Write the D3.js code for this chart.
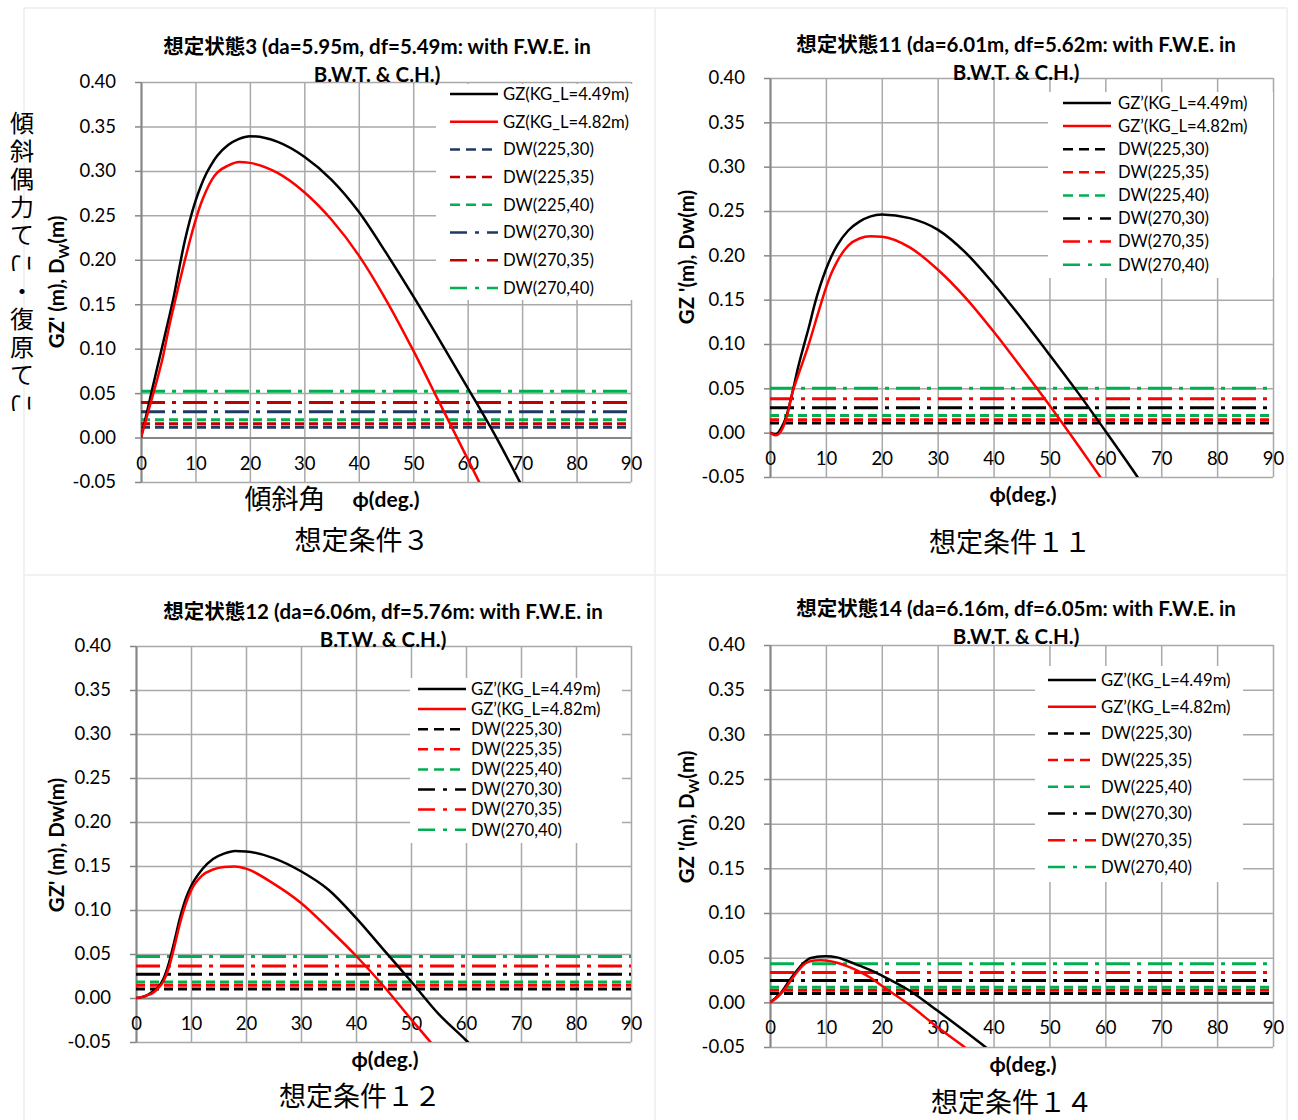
<!DOCTYPE html>
<html>
<head>
<meta charset="utf-8">
<script src="https://cdn.jsdelivr.net/npm/d3@7"></script>
<style>
body { margin: 0; background: #fff; }
svg { display: block; }
text { font-family: Lato, "Noto Sans CJK JP", sans-serif; fill: #000; }
</style>
</head>
<body>
<script>
// axis ticks
var xTicks = [0, 10, 20, 30, 40, 50, 60, 70, 80, 90];
var yTicks = [-0.05, 0, 0.05, 0.10, 0.15, 0.20, 0.25, 0.30, 0.35, 0.40];
var dwNames = ["DW(225,30)", "DW(225,35)", "DW(225,40)", "DW(270,30)", "DW(270,35)", "DW(270,40)"];

// 想定条件３
var phi3 = [0, 1, 2, 3, 4, 5, 6, 7, 8, 9, 10, 11, 12, 13, 14, 16, 18, 20, 25, 30, 35, 40, 45, 50, 55, 60, 65, 70];
var gzA3 = [0, 0.026, 0.053, 0.079, 0.105, 0.131, 0.158, 0.19, 0.220, 0.245, 0.266, 0.283, 0.297, 0.308, 0.317, 0.329, 0.336, 0.339, 0.333, 0.316, 0.290, 0.254, 0.208, 0.159, 0.108, 0.056, 0.003, -0.055];
var gzB3 = [0, 0.022, 0.044, 0.066, 0.09, 0.12, 0.147, 0.173, 0.198, 0.222, 0.244, 0.263, 0.278, 0.290, 0.298, 0.306, 0.310, 0.309, 0.298, 0.276, 0.245, 0.205, 0.155, 0.098, 0.037, -0.024, -0.085, -0.14];
var dw3 = [0.0117, 0.0154, 0.020, 0.029, 0.0395, 0.052];

// 想定条件１１
var phi11 = [0, 1, 2, 3, 4, 5, 6, 7, 8, 9, 10, 11, 12, 14, 16, 18, 20, 25, 30, 35, 40, 45, 50, 55, 60, 65, 70];
var gzA11 = [0, -0.002, 0.005, 0.02, 0.045, 0.073, 0.097, 0.12, 0.145, 0.166, 0.184, 0.199, 0.211, 0.228, 0.238, 0.244, 0.246, 0.242, 0.229, 0.203, 0.168, 0.129, 0.088, 0.046, 0.002, -0.043, -0.09];
var gzB11 = [0, -0.003, 0.002, 0.018, 0.045, 0.064, 0.082, 0.101, 0.122, 0.143, 0.163, 0.180, 0.193, 0.211, 0.219, 0.2215, 0.221, 0.209, 0.184, 0.152, 0.114, 0.073, 0.031, -0.013, -0.058, -0.1, -0.14];
var dw11 = [0.0109, 0.0147, 0.0195, 0.0282, 0.0383, 0.050];

// 想定条件１２
var phi12 = [0, 1, 2, 3, 4, 5, 6, 7, 8, 9, 10, 12, 14, 16, 18, 20, 25, 30, 35, 40, 45, 50, 55, 60, 65];
var gzA12 = [0, 0.001, 0.003, 0.007, 0.012, 0.022, 0.04, 0.065, 0.091, 0.112, 0.127, 0.146, 0.158, 0.164, 0.167, 0.1665, 0.159, 0.144, 0.123, 0.091, 0.055, 0.019, -0.018, -0.048, -0.08];
var gzB12 = [0, 0.001, 0.003, 0.0055, 0.011, 0.019, 0.035, 0.059, 0.085, 0.106, 0.122, 0.139, 0.146, 0.149, 0.1495, 0.147, 0.130, 0.108, 0.079, 0.048, 0.0136, -0.024, -0.061, -0.1, -0.14];
var dw12 = [0.0102, 0.0144, 0.0182, 0.0269, 0.0364, 0.0473];

// 想定条件１４
var phi14 = [0, 1, 2, 3, 4, 5, 6, 7, 8, 9, 10, 12, 14, 16, 18, 20, 25, 30, 35, 40, 45];
var gzA14 = [0, 0.005, 0.011, 0.02, 0.029, 0.037, 0.044, 0.049, 0.0505, 0.0513, 0.0517, 0.0503, 0.046, 0.041, 0.036, 0.030, 0.013, -0.0095, -0.033, -0.057, -0.08];
var gzB14 = [0, 0.004, 0.01, 0.018, 0.027, 0.035, 0.042, 0.0455, 0.0468, 0.0472, 0.0467, 0.0443, 0.040, 0.0345, 0.0275, 0.0185, -0.003, -0.028, -0.051, -0.075, -0.1];
var dw14 = [0.0098, 0.0135, 0.0169, 0.0244, 0.0335, 0.0432];

var W = 1298, H = 1120;
var svg = d3.select("body").append("svg").attr("width", W).attr("height", H);
svg.append("rect").attr("width", W).attr("height", H).attr("fill", "#fff");

// faint table lines round the four charts
var tableV = [24, 655, 1287], tableH = [8, 575];
svg.selectAll("line.tv").data(tableV).enter().append("line")
    .attr("x1", function(d){return d;}).attr("x2", function(d){return d;})
    .attr("y1", 8).attr("y2", H).attr("stroke", "#ececec").attr("stroke-width", 1.5);
svg.selectAll("line.th").data(tableH).enter().append("line")
    .attr("x1", 24).attr("x2", 1287)
    .attr("y1", function(d){return d;}).attr("y2", function(d){return d;})
    .attr("stroke", "#ececec").attr("stroke-width", 1.5);

var navyRedGreen = ["#203864", "#c00000", "#00b050"];
var blackRedGreen = ["#000000", "#ff0000", "#00b050"];
var gzPrime = ["GZ\u2019(KG_L=4.49m)", "GZ\u2019(KG_L=4.82m)"];

var panels = [
  { title: ["想定状態3 (da=5.95m, df=5.49m: with F.W.E. in", "B.W.T. & C.H.)"], cond: "想定条件３",
    phi: phi3, gzA: gzA3, gzB: gzB3, dw: dw3, dwColors: navyRedGreen,
    gzNames: ["GZ(KG_L=4.49m)", "GZ(KG_L=4.82m)"], yLabel: ["GZ' (m), D", "W", "(m)"], sub: true,
    l: 141, r: 631, t: 82, b: 482, tx: 377, ty: 47,
    leg: { lx: 450, tx: 503, y0: 94, dy: 27.7, box: [436, 84, 636, 300] },
    ylx: 57, yly: 282, xlx: 386, xly: 500, cx: 362, cy: 541, extraX: true },
  { title: ["想定状態11 (da=6.01m, df=5.62m: with F.W.E. in", "B.W.T. & C.H.)"], cond: "想定条件１１",
    phi: phi11, gzA: gzA11, gzB: gzB11, dw: dw11, dwColors: blackRedGreen,
    gzNames: gzPrime, yLabel: ["GZ '(m), Dw(m)"], sub: false,
    l: 770, r: 1273, t: 78, b: 477, tx: 1016, ty: 45,
    leg: { lx: 1063, tx: 1118, y0: 103, dy: 23.1, box: [1048, 92, 1273, 278] },
    ylx: 687, yly: 257, xlx: 1023, xly: 495, cx: 1010, cy: 543 },
  { title: ["想定状態12 (da=6.06m, df=5.76m: with F.W.E. in", "B.T.W. & C.H.)"], cond: "想定条件１２",
    phi: phi12, gzA: gzA12, gzB: gzB12, dw: dw12, dwColors: blackRedGreen,
    gzNames: gzPrime, yLabel: ["GZ' (m), Dw(m)"], sub: false,
    l: 136, r: 631, t: 646, b: 1042, tx: 383, ty: 612,
    leg: { lx: 418, tx: 471, y0: 689, dy: 20.1, box: [410, 678, 622, 843] },
    ylx: 57, yly: 845, xlx: 385, xly: 1060, cx: 360, cy: 1097 },
  { title: ["想定状態14 (da=6.16m, df=6.05m: with F.W.E. in", "B.W.T. & C.H.)"], cond: "想定条件１４",
    phi: phi14, gzA: gzA14, gzB: gzB14, dw: dw14, dwColors: blackRedGreen,
    gzNames: gzPrime, yLabel: ["GZ '(m), D", "W", "(m)"], sub: true,
    l: 770, r: 1273, t: 645, b: 1047, tx: 1016, ty: 609,
    leg: { lx: 1048, tx: 1101, y0: 680, dy: 26.7, box: [1035, 666, 1243, 882] },
    ylx: 687, yly: 817, xlx: 1023, xly: 1065, cx: 1012, cy: 1103 }
];

var dashStyle = "9,5", dotStyle = "24,7,4,7";
var legDash = "10,6", legDot = "17,8,4,8";
var gridColor = "#a9a9a9", axisColor = "#868686";
var fmtY = function(d){ return d3.format(".2f")(d).replace("\u2212", "-"); };

panels.forEach(function(p, pi) {
  var x = d3.scaleLinear().domain([0, 90]).range([p.l, p.r]);
  var y = d3.scaleLinear().domain([-0.05, 0.40]).range([p.b, p.t]);
  var g = svg.append("g");

  // grid
  g.append("g").attr("transform", "translate(" + p.l + ",0)")
    .call(d3.axisLeft(y).tickValues(yTicks).tickSize(-(p.r - p.l)).tickFormat(""))
    .call(function(s){ s.select(".domain").remove(); s.selectAll("line").attr("stroke", gridColor).attr("stroke-width", 1.5); });
  g.append("g").attr("transform", "translate(0," + p.b + ")")
    .call(d3.axisBottom(x).tickValues(xTicks).tickSize(-(p.b - p.t)).tickFormat(""))
    .call(function(s){ s.select(".domain").remove(); s.selectAll("line").attr("stroke", gridColor).attr("stroke-width", 1.5); });

  // y axis with labels
  g.append("g").attr("transform", "translate(" + p.l + ",0)")
    .call(d3.axisLeft(y).tickValues(yTicks).tickSize(6).tickSizeOuter(0).tickPadding(19).tickFormat(fmtY))
    .call(function(s){
      s.select(".domain").attr("stroke", axisColor).attr("stroke-width", 2);
      s.selectAll("line").attr("stroke", axisColor).attr("stroke-width", 1.5);
      s.selectAll("text").attr("font-size", 18.5).attr("font-family", "Lato, sans-serif").attr("fill", "#000");
    });

  // x axis on the zero line
  g.append("g").attr("transform", "translate(0," + y(0) + ")")
    .call(d3.axisBottom(x).tickValues(xTicks).tickSize(0).tickPadding(19).tickFormat(d3.format("d")))
    .call(function(s){
      s.select(".domain").attr("stroke", axisColor).attr("stroke-width", 2);
      s.selectAll("text").attr("font-size", 18.5).attr("font-family", "Lato, sans-serif").attr("fill", "#000");
    });

  // series, clipped to the plot area
  var clipId = "clip" + pi;
  svg.append("clipPath").attr("id", clipId).append("rect")
    .attr("x", p.l).attr("y", p.t).attr("width", p.r - p.l).attr("height", p.b - p.t);
  var plot = g.append("g").attr("clip-path", "url(#" + clipId + ")");

  var flat = d3.line().x(function(d){return x(d[0]);}).y(function(d){return y(d[1]);});
  p.dw.forEach(function(v, i) {
    plot.append("path").datum([[0, v], [90, v]]).attr("d", flat)
      .attr("fill", "none").attr("stroke", p.dwColors[i % 3]).attr("stroke-width", 3)
      .attr("stroke-dasharray", i < 3 ? dashStyle : dotStyle);
  });

  var curve = d3.line().curve(d3.curveMonotoneX)
    .x(function(d){return x(d[0]);}).y(function(d){return y(d[1]);});
  [[p.gzA, "#000"], [p.gzB, "#ff0000"]].forEach(function(s) {
    plot.append("path").datum(d3.zip(p.phi, s[0])).attr("d", curve)
      .attr("fill", "none").attr("stroke", s[1]).attr("stroke-width", 2.5);
  });

  // legend
  var L = p.leg;
  g.append("rect").attr("x", L.box[0]).attr("y", L.box[1])
    .attr("width", L.box[2] - L.box[0]).attr("height", L.box[3] - L.box[1]).attr("fill", "#fff");
  var items = [
    { name: p.gzNames[0], color: "#000", dash: null },
    { name: p.gzNames[1], color: "#ff0000", dash: null }
  ];
  dwNames.forEach(function(n, i) {
    items.push({ name: n, color: p.dwColors[i % 3], dash: i < 3 ? legDash : legDot });
  });
  var li = g.selectAll("g.leg").data(items).enter().append("g")
    .attr("transform", function(d, i){ return "translate(0," + (L.y0 + i * L.dy) + ")"; });
  li.append("line").attr("x1", L.lx).attr("x2", L.lx + 48)
    .attr("stroke", function(d){return d.color;}).attr("stroke-width", 2.5)
    .attr("stroke-dasharray", function(d){return d.dash;});
  li.append("text").attr("x", L.tx).attr("dy", "0.35em").attr("font-size", 16.7)
    .text(function(d){return d.name;});

  // titles
  g.selectAll("text.ttl").data(p.title).enter().append("text")
    .attr("x", p.tx).attr("y", function(d, i){ return p.ty + i * 28; })
    .attr("dy", "0.35em").attr("text-anchor", "middle")
    .attr("font-size", 20.5).attr("font-weight", "bold").text(function(d){return d;});

  var yl = g.append("text").attr("transform", "translate(" + p.ylx + "," + p.yly + ") rotate(-90)")
    .attr("text-anchor", "middle").attr("dy", "0.35em").attr("font-size", 20.5).attr("font-weight", "bold");
  if (p.sub) {
    yl.append("tspan").text(p.yLabel[0]);
    yl.append("tspan").attr("font-size", 14).attr("dy", 5).text(p.yLabel[1]);
    yl.append("tspan").attr("dy", -5).text(p.yLabel[2]);
  } else {
    yl.text(p.yLabel[0]);
  }

  g.append("text").attr("x", p.xlx).attr("y", p.xly).attr("dy", "0.35em").attr("text-anchor", "middle")
    .attr("font-size", 21).attr("font-weight", "bold").text("\u03d5(deg.)");
  if (p.extraX) {
    g.append("text").attr("x", 285).attr("y", p.xly).attr("dy", "0.35em").attr("text-anchor", "middle")
      .attr("font-size", 27).text("傾斜角");
  }

  g.append("text").attr("x", p.cx).attr("y", p.cy).attr("dy", "0.35em").attr("text-anchor", "middle")
    .attr("font-size", 27).text(p.cond);
});

// vertical caption on the far left
var vChars = "傾斜偶力てこ・復原てこ".split("");
svg.selectAll("text.vc").data(vChars).enter().append("text")
  .attr("transform", function(d, i){
    var t = "translate(22," + (123 + i * 28) + ")";
    return d === "こ" ? t + " rotate(90)" : t;
  })
  .attr("text-anchor", "middle").attr("dy", "0.36em")
  .attr("font-size", 24).attr("font-family", "'Noto Sans CJK JP', sans-serif")
  .text(function(d){return d;});
</script>
</body>
</html>
